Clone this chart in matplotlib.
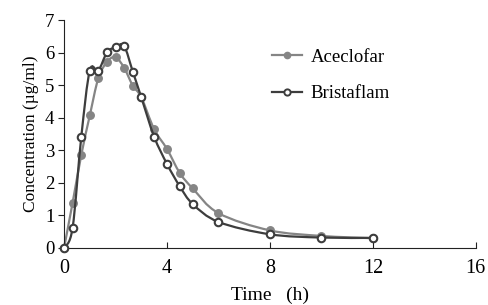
import matplotlib.pyplot as plt
from matplotlib.lines import Line2D
from matplotlib.path import Path
from matplotlib.patches import PathPatch

plt.rcParams['font.family'] = ['Liberation Serif', 'DejaVu Serif']

# sampling times (h)
time = [0, 0.33, 0.67, 1.0, 1.33, 1.67, 2.0, 2.33, 2.67, 3.0, 3.5, 4.0, 4.5, 5.0, 6.0, 8.0, 10.0, 12.0]
# plasma concentration (ug/ml)
aceclofar = [0, 1.38, 2.86, 4.07, 5.21, 5.72, 5.86, 5.54, 4.99, 4.63, 3.65, 3.04, 2.30, 1.83, 1.07, 0.54, 0.37, 0.30]
bristaflam = [0, 0.61, 3.42, 5.45, 5.45, 6.01, 6.17, 6.21, 5.42, 4.63, 3.42, 2.58, 1.89, 1.35, 0.80, 0.42, 0.32, 0.31]

xticks = [0, 4, 8, 12, 16]
yticks = [0, 1, 2, 3, 4, 5, 6, 7]

c_ace = '#858585'
c_bri = '#3d3d3d'


def smooth_path(x, y):
    # excel-like smoothed line: catmull-rom segments as cubic beziers
    n = len(x)
    verts = [(x[0], y[0])]
    codes = [Path.MOVETO]
    for i in range(n - 1):
        x0, y0 = (x[i - 1], y[i - 1]) if i > 0 else (x[i], y[i])
        x3, y3 = (x[i + 2], y[i + 2]) if i + 2 < n else (x[i + 1], y[i + 1])
        c1 = (x[i] + (x[i + 1] - x0) / 6, y[i] + (y[i + 1] - y0) / 6)
        c2 = (x[i + 1] - (x3 - x[i]) / 6, y[i + 1] - (y3 - y[i]) / 6)
        verts += [c1, c2, (x[i + 1], y[i + 1])]
        codes += [Path.CURVE4] * 3
    return Path(verts, codes)


fig = plt.figure(figsize=(4.89, 3.05), dpi=100)
ax = fig.add_axes([0.131, 0.187, 0.842, 0.747])

ax.add_patch(PathPatch(smooth_path(time, aceclofar), fill=False, ec=c_ace, lw=1.6,
                       zorder=2, clip_on=False))
ax.plot(time, aceclofar, ls='none', marker='o', ms=5.4, mfc=c_ace, mec=c_ace,
        zorder=2, clip_on=False)
ax.add_patch(PathPatch(smooth_path(time, bristaflam), fill=False, ec=c_bri, lw=1.6,
                       zorder=3, clip_on=False))
ax.plot(time, bristaflam, ls='none', marker='o', ms=5.4, mfc='white', mec=c_bri,
        mew=1.5, zorder=3, clip_on=False)

ax.set_xlim(0, 16)
ax.set_ylim(0, 7)
ax.set_xticks(xticks)
ax.set_yticks(yticks)
ax.spines['top'].set_visible(False)
ax.spines['right'].set_visible(False)
ax.spines['left'].set_color('#222222')
ax.spines['bottom'].set_color('#222222')
ax.tick_params(axis='x', direction='in', length=4, labelsize=14.5, pad=8, color='#222222')
ax.tick_params(axis='y', direction='out', length=4, labelsize=13.5, pad=3, color='#222222')

ax.set_xlabel('Time   (h)', fontsize=14, labelpad=6)
ax.set_ylabel('Concentration (µg/ml)', fontsize=12.5, labelpad=4)

handles = [
    Line2D([], [], color=c_ace, lw=1.6, marker='o', ms=4.5, mfc=c_ace, mec=c_ace),
    Line2D([], [], color=c_bri, lw=1.6, marker='o', ms=4.5, mfc='white', mec=c_bri, mew=1.4),
]
ax.legend(handles, ['Aceclofar', 'Bristaflam'], loc='upper left',
          bbox_to_anchor=(0.465, 0.95), frameon=False, fontsize=13.5,
          handlelength=1.6, handletextpad=0.45, labelspacing=1.05)

fig.savefig('out.png', dpi=100)
